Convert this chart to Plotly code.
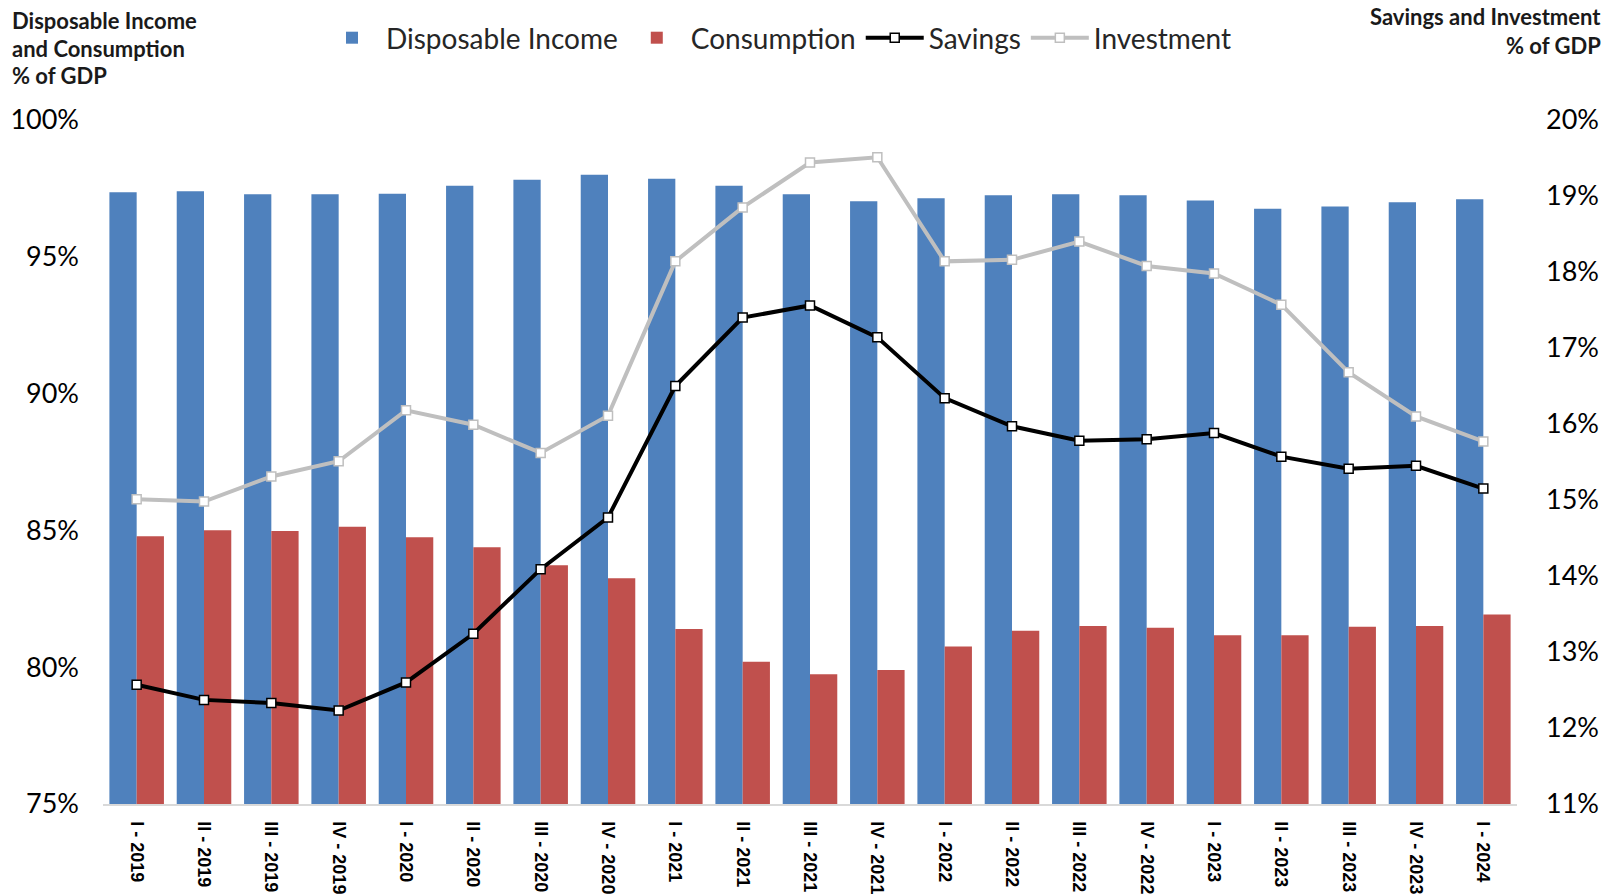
import plotly.graph_objects as go

quarters = ["I - 2019", "II - 2019", "III - 2019", "IV - 2019",
            "I - 2020", "II - 2020", "III - 2020", "IV - 2020",
            "I - 2021", "II - 2021", "III - 2021", "IV - 2021",
            "I - 2022", "II - 2022", "III - 2022", "IV - 2022",
            "I - 2023", "II - 2023", "III - 2023", "IV - 2023",
            "I - 2024"]

disposable_income = [97.36, 97.40, 97.29, 97.29, 97.30, 97.60, 97.82, 98.00,
                     97.85, 97.60, 97.29, 97.03, 97.14, 97.25, 97.29, 97.25,
                     97.06, 96.76, 96.84, 96.99, 97.10]

consumption = [84.79, 85.01, 84.98, 85.13, 84.75, 84.38, 83.73, 83.25,
               81.40, 80.20, 79.74, 79.90, 80.76, 81.33, 81.51, 81.44,
               81.17, 81.17, 81.48, 81.51, 81.93]

savings = [12.57, 12.37, 12.33, 12.23, 12.60, 13.24, 14.09, 14.77,
           16.50, 17.40, 17.56, 17.14, 16.34, 15.97, 15.78, 15.80,
           15.88, 15.57, 15.41, 15.45, 15.15]

investment = [15.01, 14.98, 15.31, 15.51, 16.18, 15.99, 15.62, 16.11,
              18.14, 18.85, 19.44, 19.51, 18.14, 18.16, 18.40, 18.08,
              17.98, 17.57, 16.68, 16.10, 15.77]

left_ticks = [75, 80, 85, 90, 95, 100]
left_labels = ["75%", "80%", "85%", "90%", "95%", "100%"]
right_ticks = [11, 12, 13, 14, 15, 16, 17, 18, 19, 20]
right_labels = ["11%", "12%", "13%", "14%", "15%", "16%", "17%", "18%", "19%", "20%"]

BLUE = "#4F81BD"
RED = "#C0504D"
GRAY = "#BFBFBF"
FONT = "Lato"

# The page body has an 8px margin, so the figure is drawn 8px in from the corner.
OFF = 8
PAGE_W, PAGE_H = 1615, 895
W, H = PAGE_W - 2 * OFF, PAGE_H - OFF
# plot area in page pixels
PL, PR, PT, PB = 103, 1517, 120, 804
L, T = PL - OFF, PT - OFF
R, B = W - (PR - OFF), H - (PB - OFF)
PW, PH = PR - PL, PB - PT


def px_x(x):
    return (x - PL) / PW


def px_y(y):
    return (PB - y) / PH


fig = go.Figure()
fig.add_trace(go.Bar(x=quarters, y=disposable_income, name="Disposable Income",
                     marker=dict(color=BLUE, line=dict(width=0)), yaxis="y"))
fig.add_trace(go.Bar(x=quarters, y=consumption, name="Consumption",
                     marker=dict(color=RED, line=dict(width=0)), yaxis="y"))
fig.add_trace(go.Scatter(x=quarters, y=savings, name="Savings", mode="lines+markers",
                         line=dict(color="black", width=4),
                         marker=dict(symbol="square", size=9, color="white",
                                     line=dict(color="black", width=1.5)),
                         yaxis="y2"))
fig.add_trace(go.Scatter(x=quarters, y=investment, name="Investment", mode="lines+markers",
                         line=dict(color=GRAY, width=4),
                         marker=dict(symbol="square", size=9, color="white",
                                     line=dict(color=GRAY, width=1.5)),
                         yaxis="y2"))

fig.update_layout(
    width=W, height=H,
    margin=dict(l=L, r=R, t=T, b=B, autoexpand=False),
    paper_bgcolor="white", plot_bgcolor="white",
    barmode="group", bargap=0.19, bargroupgap=0,
    showlegend=True,
    legend=dict(orientation="h", x=px_x(318), xanchor="left", y=px_y(38), yanchor="middle",
                font=dict(family=FONT, size=28, color="#262626"),
                itemwidth=58, tracegroupgap=0, bgcolor="rgba(0,0,0,0)"),
    xaxis=dict(type="category", range=[-0.5, len(quarters) - 0.5], tickangle=90,
               automargin=False,
               showgrid=False, showline=True, linecolor="#D9D9D9", linewidth=1.5,
               ticks="", ticklabelstandoff=12,
               tickfont=dict(family="Liberation Sans", size=18, color="black", weight="bold")),
    yaxis=dict(range=[75, 100], tickvals=left_ticks, ticktext=left_labels,
               automargin=False,
               showgrid=False, zeroline=False, showline=False, ticks="",
               ticklabelstandoff=23,
               tickfont=dict(family=FONT, size=27, color="black")),
    yaxis2=dict(range=[11, 20], tickvals=right_ticks, ticktext=right_labels,
                overlaying="y", side="right", automargin=False,
                showgrid=False, zeroline=False, showline=False, ticks="",
                ticklabelstandoff=28,
                tickfont=dict(family=FONT, size=27, color="black")),
    font=dict(family=FONT),
)

title_font = dict(family=FONT, size=22, color="#1a1a1a", weight="bold")
left_title = ["Disposable Income", "and Consumption", "% of GDP"]
left_title_y = [20, 48.5, 76]
for txt, yy in zip(left_title, left_title_y):
    fig.add_annotation(text=txt, xref="paper", yref="paper",
                       x=px_x(10), xanchor="left", y=px_y(yy), yanchor="middle",
                       showarrow=False, font=title_font)

right_title = ["Savings and Investment", "% of GDP"]
right_title_y = [16.5, 45]
for txt, yy in zip(right_title, right_title_y):
    fig.add_annotation(text=txt, xref="paper", yref="paper",
                       x=px_x(1603), xanchor="right", y=px_y(yy), yanchor="middle",
                       showarrow=False, font=title_font)

fig.write_html("out.html")
